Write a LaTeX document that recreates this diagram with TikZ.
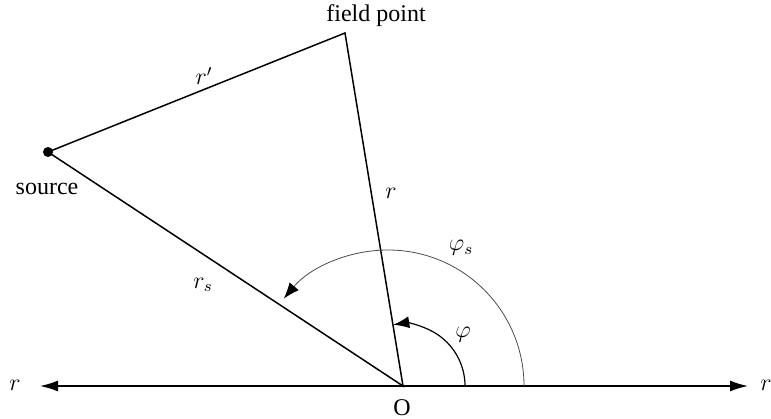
\documentclass[tikz,border=0pt]{standalone}
\usepackage{amsmath}
\usepackage{fontspec}
\setmainfont{Liberation Serif}
\usetikzlibrary{arrows.meta}

\begin{document}
\begin{tikzpicture}[x=0.5pt,y=-0.5pt,
  line/.style={line width=0.75pt},
  anglearc/.style={line width=0.4pt,black!70},
  tip/.style={-{Latex[length=9pt,width=5.5pt]}},
  arctip/.style={-{Latex[length=8pt,width=6pt,color=black]}},
  lbl/.style={font=\fontsize{12}{14}\selectfont}]

  % frame of the picture
  \useasboundingbox (0,0) rectangle (771,418);

  % points
  \coordinate (O) at (403,386);
  \coordinate (fp) at (345,33);
  \node[circle,fill,inner sep=0pt,minimum size=5pt] (src) at (48,152) {};
  \coordinate (axl) at (40,386);
  \coordinate (axr) at (748,386);
  \coordinate (phistart) at (465,386);
  \coordinate (phisstart) at (524,386);

  % axis
  \draw[line,tip] (O) -- (axl);
  \draw[line,tip] (O) -- (axr);
  \node[lbl] (rl) at (15,385) {$r$};
  \node[lbl] (rr) at (766,385) {$r$};

  % triangle
  \draw[line] (src.center) -- (fp) -- (O) -- (src.center);

  % angle phi
  \draw[anglearc,black,line width=0.6pt,arctip] (phistart) arc[start angle=0,end angle=-99,radius=62];
  \node[lbl] (phi) at (463,335) {$\varphi$};

  % angle phi_s
  \draw[anglearc,arctip] (phisstart) arc[start angle=0,end angle=-140,radius=136];
  \node[lbl] (phis) at (461,248) {$\varphi_s$};

  % labels
  \node[lbl] (fplbl) at (376,16) {field point};
  \node[lbl] (srclbl) at (47,189) {source};
  \node[lbl] (rp) at (204,76) {$r'$};
  \node[lbl] (r) at (391,193) {$r$};
  \node[lbl] (rs) at (203,285) {$r_s$};
  \node[lbl] (olbl) at (402,408) {O};

\end{tikzpicture}
\end{document}
